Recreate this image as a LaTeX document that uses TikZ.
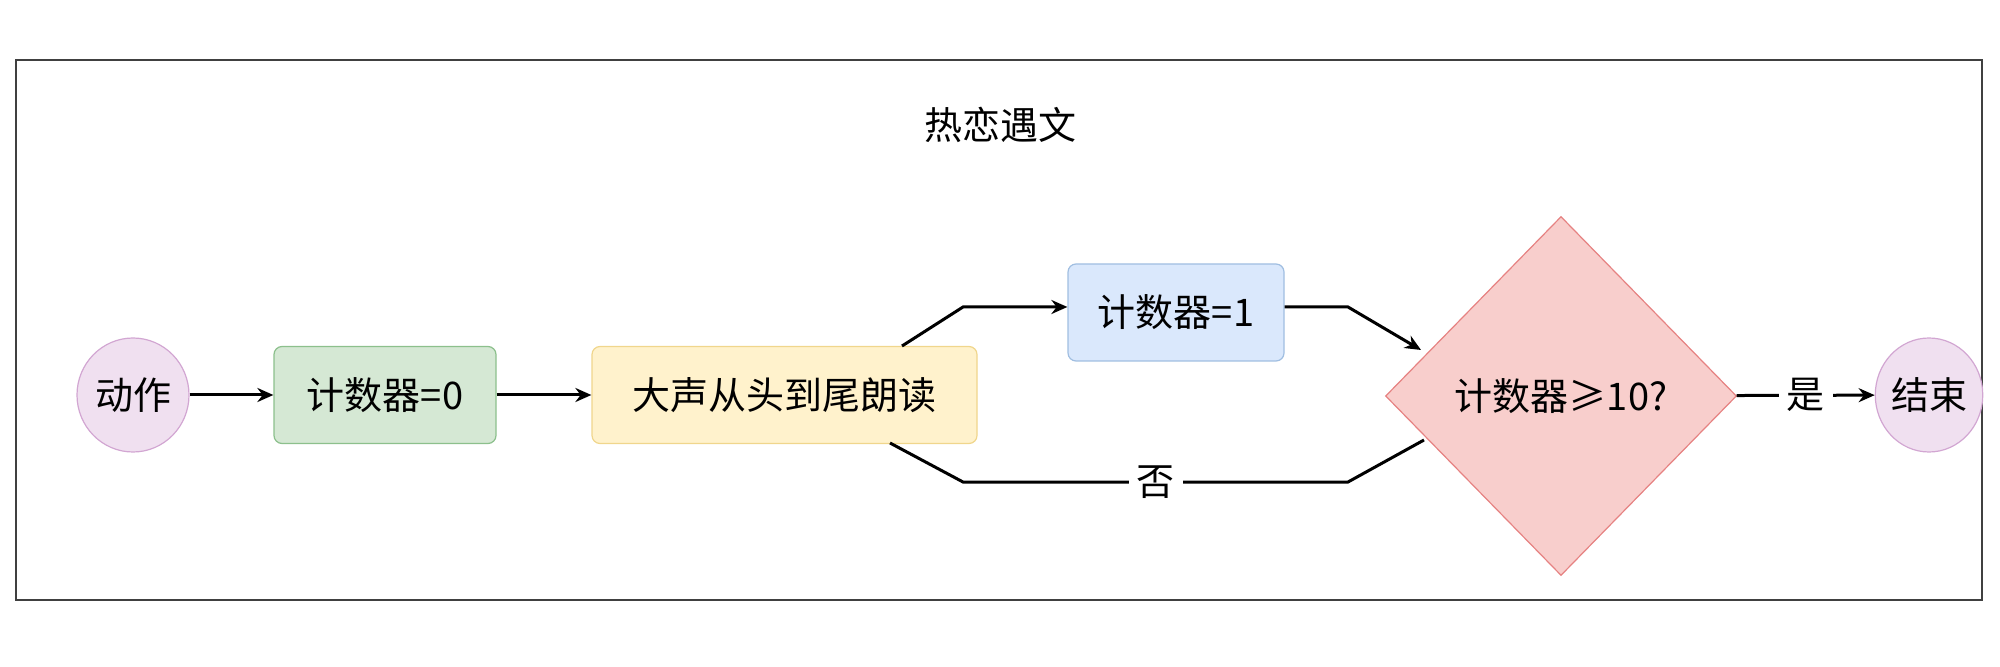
\documentclass[tikz,border=0pt]{standalone}
\usepackage{fontspec}
\setmainfont{Noto Sans CJK SC}
\usetikzlibrary{shapes.geometric,arrows.meta}

\tikzset{
  box/.style={draw, rounded corners=4pt, line width=0.6pt, inner sep=0pt, minimum height=48.5pt, font=\fontsize{19pt}{23pt}\selectfont},
  term/.style={draw=violet!35, fill=violet!12, ellipse, line width=0.6pt, inner sep=0pt, font=\fontsize{19pt}{23pt}\selectfont},
  link/.style={line width=1.5pt, -{Stealth[length=8pt,width=7pt]}},
  plain/.style={line width=1.5pt},
}

\begin{document}
\begin{tikzpicture}[x=0.5pt,y=-0.5pt]
\useasboundingbox (0,0) rectangle (2000,667);

% frame
\draw [line width=1pt, black!75] (16,60) rectangle (1982,600);
\node (title) at (1000,125) {\fontsize{19pt}{23pt}\selectfont 热恋遇文};

% nodes
\node [term, minimum width=56pt, minimum height=57pt] (start) at (133,395) {动作};
\node [box, draw=green!45!black!45, fill=green!35!black!5!green!12, minimum width=111pt, fill={rgb,255:red,213;green,232;blue,212}] (zero) at (385,395) {计数器=0};
\node [box, draw={rgb,255:red,240;green,214;blue,140}, fill={rgb,255:red,255;green,242;blue,204}, minimum width=192.5pt] (read) at (784.5,395) {大声从头到尾朗读};
\node [box, draw={rgb,255:red,160;green,190;blue,225}, fill={rgb,255:red,218;green,232;blue,252}, minimum width=108pt] (one) at (1176,312.5) {计数器=1};
\node [diamond, draw={rgb,255:red,230;green,130;blue,130}, fill={rgb,255:red,248;green,206;blue,204}, line width=0.6pt, inner sep=0pt, minimum width=175.5pt, minimum height=179.5pt, font=\fontsize{19pt}{23pt}\selectfont] (test) at (1561,396) {计数器≥10?};
\node [term, minimum width=50pt, minimum height=57pt] (end) at (1929,395) {结束};

% bend points
\coordinate (a1) at (902,346);
\coordinate (a2) at (963,307);
\coordinate (b1) at (1348,307);
\coordinate (b2) at (1421,350);
\coordinate (c1) at (1424,440);
\coordinate (c2) at (1348,482);
\coordinate (c3) at (963,482);
\coordinate (c4) at (890,443);

% connectors
\draw [link] (start) -- (zero);
\draw [link] (zero) -- (read);
\draw [link] (a1) -- (a2) -- (one.west |- a2);
\draw [link] (one.east |- b1) -- (b1) -- (b2);
\draw [plain] (c1) -- (c2) -- node [fill=white, inner sep=4pt, font=\fontsize{19pt}{23pt}\selectfont] (no) {否} (c3) -- (c4);
\draw [link] (test) -- node [fill=white, inner sep=4pt, font=\fontsize{19pt}{23pt}\selectfont] (yes) {是} (end);

\end{tikzpicture}
\end{document}
